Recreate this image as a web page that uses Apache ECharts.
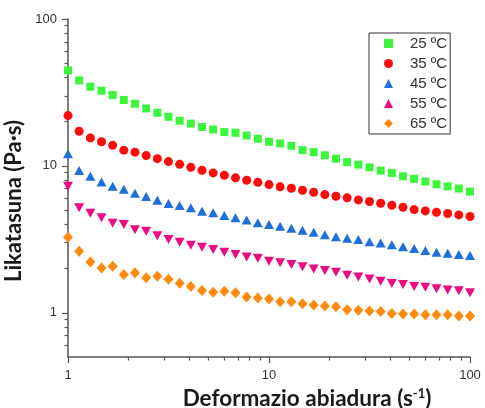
<!DOCTYPE html>
<html>
<head>
<meta charset="utf-8">
<script src="https://cdn.jsdelivr.net/npm/echarts@6/dist/echarts.min.js"></script>
<style>html,body{margin:0;padding:0;background:#fff}#c{width:485px;height:408px}</style>
</head>
<body>
<div id="c"></div>
<script>
const shearRate = [1, 1.136, 1.292, 1.468, 1.668, 1.896, 2.154, 2.448, 2.783, 3.162, 3.594, 4.084, 4.642, 5.275, 5.995, 6.813, 7.743, 8.799, 10, 11.36, 12.92, 14.68, 16.68, 18.96, 21.54, 24.48, 27.83, 31.62, 35.94, 40.84, 46.42, 52.75, 59.95, 68.13, 77.43, 87.99, 100];
const visc25 = [44.7, 38.2, 34.6, 32.5, 30.4, 28.1, 26.5, 24.6, 23.0, 21.6, 20.3, 19.4, 18.4, 17.7, 17.0, 16.8, 16.1, 15.3, 14.6, 14.2, 13.7, 12.8, 12.4, 11.8, 11.2, 10.6, 10.2, 9.78, 9.29, 8.96, 8.50, 8.16, 7.82, 7.50, 7.26, 7.01, 6.69];
const visc35 = [22.0, 17.2, 15.5, 14.6, 13.8, 12.8, 12.4, 11.75, 11.2, 10.7, 10.25, 9.78, 9.34, 8.96, 8.63, 8.29, 7.98, 7.73, 7.46, 7.20, 7.04, 6.82, 6.61, 6.38, 6.21, 6.06, 5.87, 5.72, 5.57, 5.40, 5.23, 5.04, 4.94, 4.83, 4.74, 4.64, 4.52];
const visc45 = [12.1, 9.29, 8.50, 7.78, 7.26, 6.93, 6.51, 6.18, 5.83, 5.54, 5.37, 5.18, 4.91, 4.79, 4.59, 4.43, 4.29, 4.10, 3.99, 3.88, 3.76, 3.65, 3.53, 3.40, 3.29, 3.22, 3.15, 3.05, 2.99, 2.90, 2.81, 2.74, 2.65, 2.58, 2.54, 2.49, 2.45];
const visc55 = [7.26, 5.18, 4.76, 4.43, 4.07, 3.99, 3.67, 3.59, 3.34, 3.15, 3.02, 2.88, 2.79, 2.70, 2.58, 2.49, 2.40, 2.35, 2.24, 2.19, 2.13, 2.06, 1.99, 1.94, 1.89, 1.80, 1.75, 1.70, 1.64, 1.58, 1.56, 1.51, 1.49, 1.46, 1.43, 1.41, 1.37];
const visc65 = [3.27, 2.62, 2.22, 2.02, 2.07, 1.82, 1.87, 1.73, 1.77, 1.69, 1.59, 1.51, 1.42, 1.38, 1.40, 1.37, 1.28, 1.26, 1.24, 1.19, 1.19, 1.15, 1.13, 1.11, 1.10, 1.05, 1.04, 1.03, 1.02, 0.99, 0.98, 0.98, 0.97, 0.97, 0.97, 0.95, 0.95];
const seriesNames = ['25 ºC', '35 ºC', '45 ºC', '55 ºC', '65 ºC'];
const xMajorTicks = [1, 10, 100];
const xMinorTicks = [2, 3, 4, 5, 6, 7, 8, 9, 20, 30, 40, 50, 60, 70, 80, 90];
const yMajorTicks = [1, 10, 100];
const yMinorTicks = [0.6, 0.7, 0.8, 0.9, 2, 3, 4, 5, 6, 7, 8, 9, 20, 30, 40, 50, 60, 70, 80, 90];
const xTitle = 'Deformazio abiadura (s';
const yTitle = 'Likatasuna (Pa·s)';

const pairs = ys => shearRate.map((x, i) => [x, ys[i]]);
const axisColor = '#555';
const labelStyle = { color: '#333', fontSize: 13, fontFamily: 'Liberation Sans, Arial, sans-serif' };
const titleFont = 'Lato, sans-serif';

const chart = echarts.init(document.getElementById('c'), null, { renderer: 'canvas' });
chart.setOption({
  animation: false,
  backgroundColor: '#fff',
  grid: { left: 68, right: 15, top: 19, bottom: 51, containLabel: false, outerBoundsMode: 'none' },
  legend: {
    left: 369, top: 33, orient: 'vertical',
    padding: [3, 3, 3, 15], itemGap: 5, itemWidth: 9, itemHeight: 9,
    symbolKeepAspect: true,
    borderColor: '#333', borderWidth: 1,
    textStyle: { color: '#333', fontSize: 15, fontFamily: 'Liberation Sans, Arial, sans-serif', padding: [0, 0, 0, 12] },
    data: seriesNames
  },
  xAxis: [{
    type: 'log', logBase: 10, min: 1, max: 100, position: 'bottom',
    name: '{a|' + xTitle + '}{s|-1}{a|)}', nameLocation: 'middle', nameGap: 29,
    nameTextStyle: {
      padding: [0, 0, 0, 76],
      rich: {
        a: { fontSize: 22.5, fontWeight: 'bold', color: '#1a1a1a', fontFamily: titleFont, lineHeight: 24 },
        s: { fontSize: 13, fontWeight: 'bold', color: '#1a1a1a', fontFamily: titleFont, lineHeight: 24, verticalAlign: 'top', padding: [0, 0, 8, 0] }
      }
    },
    axisLine: { show: true, lineStyle: { color: axisColor, width: 1.5 } },
    axisTick: { show: true, length: 6, customValues: xMajorTicks, lineStyle: { color: axisColor, width: 1.2 } },
    axisLabel: { show: true, margin: 12, customValues: xMajorTicks, ...labelStyle },
    splitLine: { show: false }, minorTick: { show: false }
  }, {
    type: 'log', logBase: 10, min: 1, max: 100, position: 'bottom',
    axisLine: { show: false },
    axisTick: { show: true, length: 3.5, customValues: xMinorTicks, lineStyle: { color: axisColor, width: 1.2 } },
    axisLabel: { show: false },
    splitLine: { show: false }
  }],
  yAxis: [{
    type: 'log', logBase: 10, min: 0.5, max: 100, position: 'left',
    name: yTitle, nameLocation: 'middle', nameGap: 29, nameRotate: 90,
    nameTextStyle: { fontSize: 22, fontWeight: 'bold', color: '#1a1a1a', fontFamily: titleFont, padding: [0, 26, 0, 0] },
    axisLine: { show: true, lineStyle: { color: axisColor, width: 1.5 } },
    axisTick: { show: true, length: 6, customValues: yMajorTicks, lineStyle: { color: axisColor, width: 1.2 } },
    axisLabel: { show: true, margin: 11, customValues: yMajorTicks, ...labelStyle },
    splitLine: { show: false }, minorTick: { show: false }
  }, {
    type: 'log', logBase: 10, min: 0.5, max: 100, position: 'left',
    axisLine: { show: false },
    axisTick: { show: true, length: 3.5, customValues: yMinorTicks, lineStyle: { color: axisColor, width: 1.2 } },
    axisLabel: { show: false },
    splitLine: { show: false }
  }],
  series: [
    { name: seriesNames[0], type: 'scatter', data: pairs(visc25), symbol: 'rect', symbolSize: 8, itemStyle: { color: '#3cf53c', opacity: 1 } },
    { name: seriesNames[1], type: 'scatter', data: pairs(visc35), symbol: 'circle', symbolSize: 9, itemStyle: { color: '#ff0a0a', opacity: 1 } },
    { name: seriesNames[2], type: 'scatter', data: pairs(visc45), symbol: 'triangle', symbolSize: [10, 9], itemStyle: { color: '#1e6fd9', opacity: 1 } },
    { name: seriesNames[3], type: 'scatter', data: pairs(visc55), symbol: 'triangle', symbolRotate: 180, symbolSize: [10, 9], itemStyle: { color: '#ec0c80', opacity: 1 } },
    { name: seriesNames[4], type: 'scatter', data: pairs(visc65), symbol: 'diamond', symbolSize: [10, 11], itemStyle: { color: '#ff8a0d', opacity: 1 } }
  ]
});
</script>
</body>
</html>
